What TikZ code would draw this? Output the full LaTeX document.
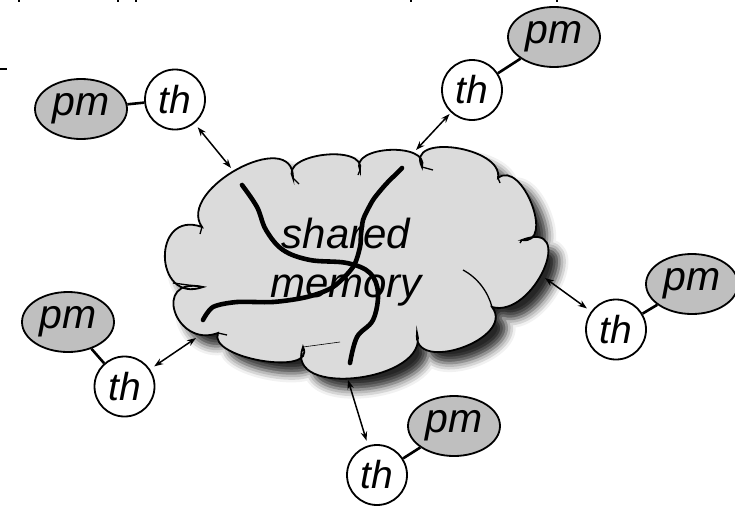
\documentclass[tikz,border=0pt]{standalone}
\usepackage{fontspec}
\setmainfont{Liberation Sans}
\usetikzlibrary{calc,shapes.geometric,arrows.meta,shadows.blur}

\begin{document}
\begin{tikzpicture}[x=1pt,y=-1pt,
  outline/.style={draw=black,line width=1.8pt},
  thread/.style={outline,circle,fill=white,minimum size=60pt,inner sep=0pt,
    font=\fontsize{39}{40}\selectfont\itshape},
  pmem/.style={outline,ellipse,fill=gray!50,minimum width=92pt,minimum height=60pt,
    inner sep=0pt,font=\fontsize{41}{40}\selectfont\itshape},
  link/.style={line width=2.6pt},
  access/.style={line width=1.5pt,{Stealth[length=9pt,width=6.5pt]}-{Stealth[length=9pt,width=6.5pt]}},
  crack/.style={line width=4.6pt,line cap=round,line join=round},
  seam/.style={line width=1.3pt},
  cloudshape/.style={outline,fill=gray!28,
    blur shadow={shadow xshift=11pt,shadow yshift=-11pt,shadow blur radius=9pt,shadow opacity=85}},
]
\useasboundingbox (0,0) rectangle (735,506);

% cusps of the cloud outline and the crest of each bump
\coordinate (c1) at (202,227);  \coordinate (c2) at (293,178);
\coordinate (c3) at (360,170);  \coordinate (c4) at (422,167);
\coordinate (c5) at (498,178);  \coordinate (c6) at (522,240);
\coordinate (c7) at (492,307);  \coordinate (c8) at (417,333);
\coordinate (c9) at (303,347);  \coordinate (c10) at (218,333);
\coordinate (c11) at (203,287);
\coordinate (p1) at (238,169);  \coordinate (p2) at (324,155);
\coordinate (p3) at (390,150);  \coordinate (p4) at (456,148);
\coordinate (p5) at (532,204);  \coordinate (p6) at (544,270);
\coordinate (p7) at (462,348);  \coordinate (p8) at (358,378);
\coordinate (p9) at (262,361);  \coordinate (p10) at (175,312);
\coordinate (p11) at (165,257);

% shared memory cloud
\path[cloudshape] (c1)
  .. controls ($0.483*(c1)-0.817*(c2)+1.333*(p1)$) and ($0.483*(c2)-0.817*(c1)+1.333*(p1)$) .. (c2)
  .. controls ($0.483*(c2)-0.817*(c3)+1.333*(p2)$) and ($0.483*(c3)-0.817*(c2)+1.333*(p2)$) .. (c3)
  .. controls ($0.483*(c3)-0.817*(c4)+1.333*(p3)$) and ($0.483*(c4)-0.817*(c3)+1.333*(p3)$) .. (c4)
  .. controls ($0.483*(c4)-0.817*(c5)+1.333*(p4)$) and ($0.483*(c5)-0.817*(c4)+1.333*(p4)$) .. (c5)
  .. controls ($0.533*(c5)-0.867*(c6)+1.333*(p5)$) and ($0.533*(c6)-0.867*(c5)+1.333*(p5)$) .. (c6)
  .. controls ($0.583*(c6)-0.917*(c7)+1.333*(p6)$) and ($0.583*(c7)-0.917*(c6)+1.333*(p6)$) .. (c7)
  .. controls ($0.533*(c7)-0.867*(c8)+1.333*(p7)$) and ($0.533*(c8)-0.867*(c7)+1.333*(p7)$) .. (c8)
  .. controls ($0.483*(c8)-0.817*(c9)+1.333*(p8)$) and ($0.483*(c9)-0.817*(c8)+1.333*(p8)$) .. (c9)
  .. controls ($0.483*(c9)-0.817*(c10)+1.333*(p9)$) and ($0.483*(c10)-0.817*(c9)+1.333*(p9)$) .. (c10)
  .. controls ($0.633*(c10)-0.967*(c11)+1.333*(p10)$) and ($0.633*(c11)-0.967*(c10)+1.333*(p10)$) .. (c11)
  .. controls ($0.633*(c11)-0.967*(c1)+1.333*(p11)$) and ($0.633*(c1)-0.967*(c11)+1.333*(p11)$) .. (c1)
  -- cycle;

% inner seams where the bumps overlap
\draw[seam] (c1) -- ++(-2,7);
\draw[seam] (c2) -- ++(6,6);
\draw[seam] (c3) -- ++(-2,5);
\draw[seam] (c4) -- ++(11,3);
\draw[seam] (c5) -- ++(2,5);
\draw[seam] (c6) -- ++(-2,3);
\draw[seam] (463,270) .. controls (478,278) and (488,292) .. (c7);
\draw[seam] (c8) -- ++(0,7);
\draw[line width=0.6pt] (c9) -- (340,342);
\draw[seam] (c10) -- ++(9,2);
\draw[seam] (173,283) -- (c11);

% cracks through the cloud
\draw[crack] plot[smooth,tension=0.6] coordinates {(242,185) (257,207) (266,230) (283,250) (310,260) (347,263) (370,273) (378,293) (373,320) (357,337) (350,363)};
\draw[crack] plot[smooth,tension=0.5] coordinates {(402,168) (394,176) (387,183) (380,191) (373,200) (367,211) (363,220) (361,234) (360,247) (353,267) (333,287) (307,297) (273,302) (237,302) (213,307) (203,320)};

\node[font=\fontsize{42}{49}\selectfont\itshape,align=center,inner sep=0pt] (label) at (346,262) {shared\\memory};

% threads and their private memories
\node[thread] (th1) at (175,99.5) {th};
\node[pmem]   (pm1) at (81,109) {pm};
\node[thread] (th2) at (472,90) {th};
\node[pmem]   (pm2) at (554,37) {pm};
\node[thread] (th3) at (616,329.5) {th};
\node[pmem]   (pm3) at (692,284) {pm};
\node[thread] (th4) at (124.5,386.5) {th};
\node[pmem]   (pm4) at (68,322) {pm};
\node[thread] (th5) at (377,475) {th};
\node[pmem]   (pm5) at (454,426) {pm};

\draw[link] (pm1) -- (th1);
\draw[link] (th2) -- (pm2);
\draw[link] (th3) -- (pm3);
\draw[link] (pm4) -- (th4);
\draw[link] (th5) -- (pm5);

% access points on the cloud
\coordinate (k1) at (231,168);
\coordinate (k2) at (416,150);
\coordinate (k3) at (545,278);
\coordinate (k4) at (196,338);
\coordinate (k5) at (348,380);

\draw[access,shorten <=5pt] (th1) -- (k1);
\draw[access,shorten <=2pt] (th2) -- (k2);
\draw[access,shorten <=5pt] (th3) -- (k3);
\draw[access,shorten <=5pt] (th4) -- (k4);
\draw[access,shorten <=5pt] (th5) -- (k5);

% cut-off marks along the edges
\draw[line width=1.2pt] (0,69) -- (7,69);
\foreach \x in {19,118,136,411,557} \draw[line width=1.4pt] (\x,0) -- (\x,2);
\end{tikzpicture}
\end{document}
